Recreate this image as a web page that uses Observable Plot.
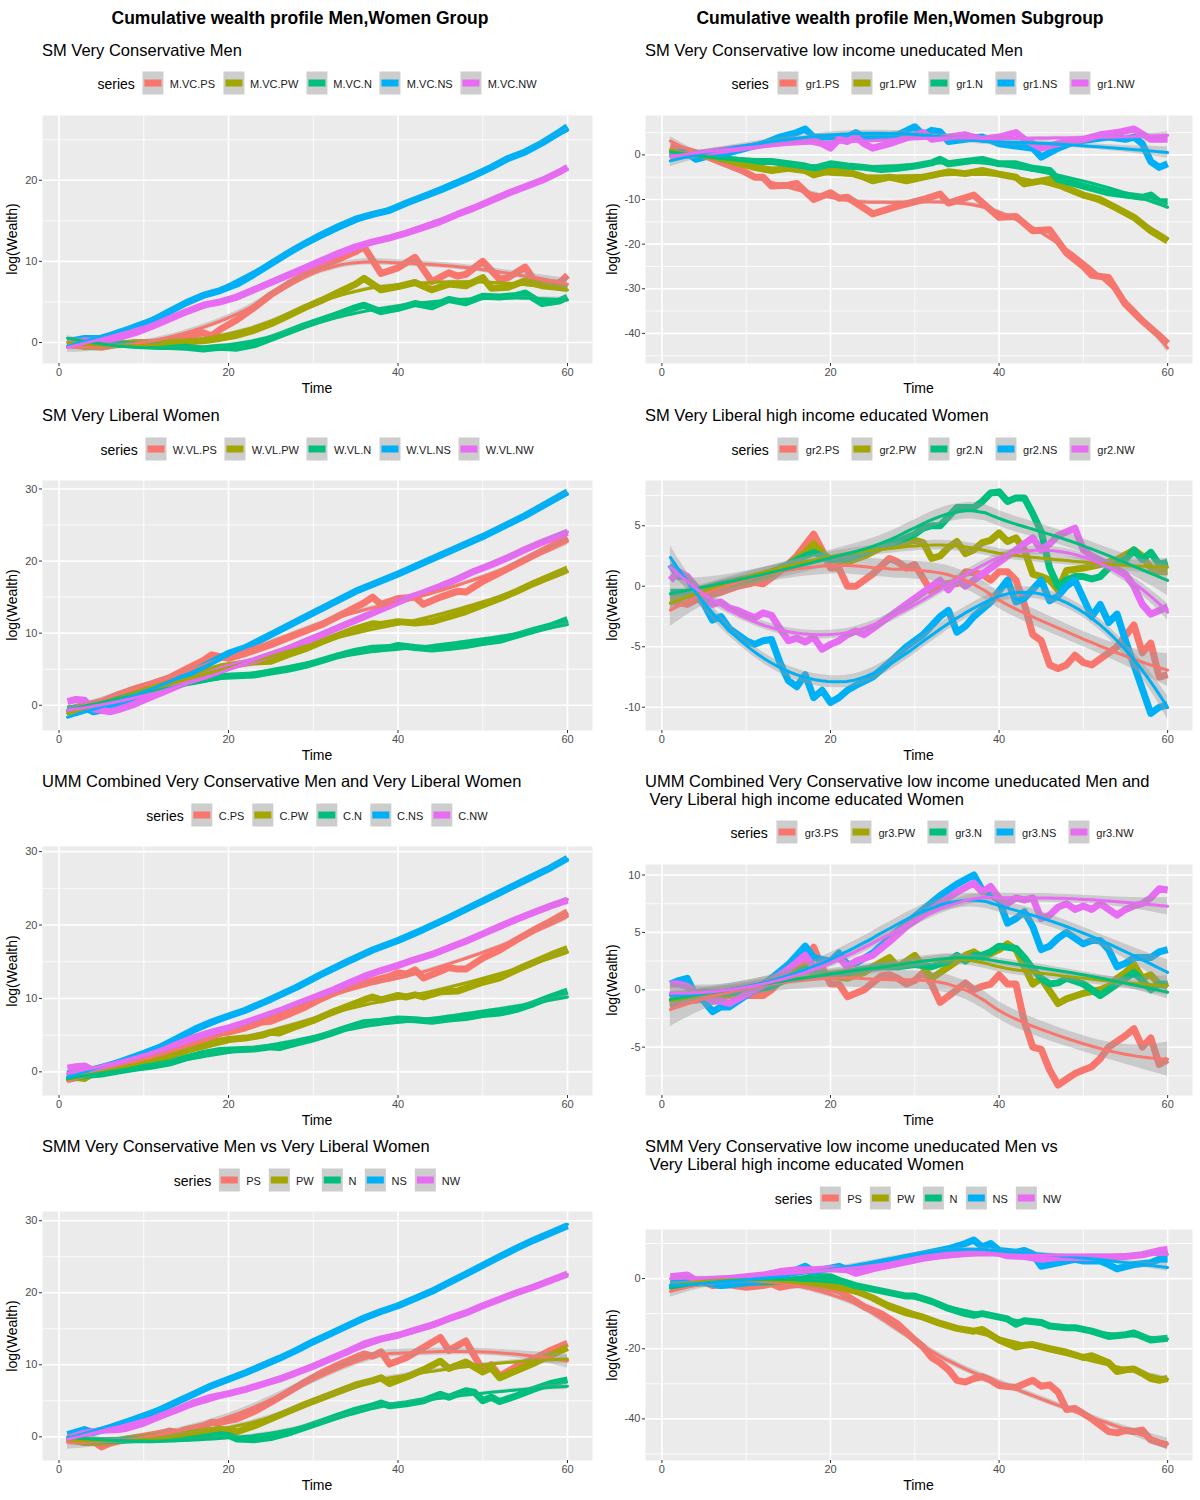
<!DOCTYPE html>
<html><head><meta charset="utf-8">
<script src="https://cdn.jsdelivr.net/npm/d3@7"></script>
<script src="https://cdn.jsdelivr.net/npm/@observablehq/plot@0.6"></script>
<style>
body{margin:0;background:#fff;font-family:"Liberation Sans",Arial,Helvetica,sans-serif;}
#root{position:relative;width:1200px;height:1500px;overflow:hidden;background:#fff;}
.abs{position:absolute;white-space:nowrap;}
.ctitle{font-weight:bold;font-size:17.5px;color:#000;transform:translate(-50%,-50%);}
.sub{font-size:16.5px;color:#000;transform:translate(0,-50%);}
.legend{display:flex;align-items:center;transform:translate(-50%,-50%);font-size:11px;color:#1a1a1a;}
.legend .lt{font-size:14px;color:#000;margin-right:8px;}
.legend .key{position:relative;width:21px;height:23px;background:#CDCDCD;}
.legend .bar{position:absolute;left:2px;right:2px;top:8px;height:7px;}
.legend .lab{margin-left:6px;margin-right:8px;}
.legend.wide .lab{margin-left:7px;margin-right:12px;}
.legend.wide .lt{margin-right:9px;}
.ytitle{font-size:14px;color:#000;transform:translate(-50%,-50%) rotate(-90deg);}
.xtitle{font-size:14px;color:#000;transform:translate(-50%,-50%);}
svg{position:absolute;overflow:visible;}
</style>
</head><body><div id="root"></div>
<script>
// ---------- colours ----------
const COLORS = ["#F8766D","#A3A500","#00BF7D","#00B0F6","#E76BF3"];

// ---------- titles ----------
const COL_TITLES = ["Cumulative wealth profile Men,Women Group","Cumulative wealth profile Men,Women Subgroup"];
const SUBTITLES = [
  ["SM Very Conservative Men"],
  ["SM Very Liberal Women"],
  ["UMM Combined Very Conservative Men and Very Liberal Women"],
  ["SMM Very Conservative Men vs Very Liberal Women"],
  ["SM Very Conservative low income uneducated Men"],
  ["SM Very Liberal high income educated Women"],
  ["UMM Combined Very Conservative low income uneducated Men and"," Very Liberal high income educated Women"],
  ["SMM Very Conservative low income uneducated Men vs"," Very Liberal high income educated Women"]
];
const NAMES_L1 = ["M.VC.PS","M.VC.PW","M.VC.N","M.VC.NS","M.VC.NW"];
const NAMES_L2 = ["W.VL.PS","W.VL.PW","W.VL.N","W.VL.NS","W.VL.NW"];
const NAMES_L3 = ["C.PS","C.PW","C.N","C.NS","C.NW"];
const NAMES_L4 = ["PS","PW","N","NS","NW"];
const NAMES_R1 = ["gr1.PS","gr1.PW","gr1.N","gr1.NS","gr1.NW"];
const NAMES_R2 = ["gr2.PS","gr2.PW","gr2.N","gr2.NS","gr2.NW"];
const NAMES_R3 = ["gr3.PS","gr3.PW","gr3.N","gr3.NS","gr3.NW"];
const NAMES_R4 = ["PS","PW","N","NS","NW"];

// ---------- tick labels ----------
const X_TICKS = [0,20,40,60];
const YT_L1 = [0,10,20];
const YT_L2 = [0,10,20,30];
const YT_L3 = [0,10,20,30];
const YT_L4 = [0,10,20,30];
const YT_R1 = [-40,-30,-20,-10,0];
const YT_R2 = [-10,-5,0,5];
const YT_R3 = [-5,0,5,10];
const YT_R4 = [-40,-20,0];

// ---------- SM Very Conservative Men ----------
const mvc_PS_t = [1,3,5,7,9,11,13,15,17,18,19,21,23,25,27,29,31,33,35,36,38,40,42,44,46,47,48,50,52,53,55,56,58,59,60];
const mvc_PS_v = [-0.3,-0.4,-0.6,-0.2,0.0,0.0,0.3,0.7,1.2,0.8,1.6,2.8,4.3,5.9,7.2,8.4,9.4,10.3,11.2,11.8,8.5,9.2,10.5,7.5,8.6,8.2,8.4,10.0,7.8,8.0,9.3,7.8,7.4,7.3,8.3];
const mvc_PW_t = [1,3,5,7,9,11,13,15,17,19,21,23,25,27,29,31,33,35,36,38,40,42,44,46,48,50,51,53,55,57,60];
const mvc_PW_v = [0.0,-0.5,-0.4,-0.2,-0.1,-0.1,0.0,0.1,0.2,0.5,0.9,1.5,2.3,3.3,4.3,5.2,6.2,7.2,7.9,6.5,6.9,7.4,6.5,7.2,7.0,8.0,6.7,6.8,7.6,7.0,6.7];
const mvc_N_t = [1,3,5,7,9,11,13,15,17,19,21,23,25,27,29,31,33,35,36,38,40,42,44,46,48,50,52,54,55,57,59,60];
const mvc_N_v = [0.2,0.0,-0.2,-0.2,-0.3,-0.4,-0.5,-0.6,-0.8,-0.6,-0.7,-0.3,0.5,1.3,2.1,2.8,3.5,4.3,4.6,3.8,4.2,4.8,4.4,5.3,4.9,5.7,5.6,5.8,6.1,4.8,5.1,5.6];
const mvc_NS_t = [1,3,5,7,9,11,13,15,17,19,21,23,25,27,29,31,33,35,37,39,41,43,45,47,49,51,53,55,57,59,60];
const mvc_NS_v = [0.1,0.5,0.5,1.0,1.7,2.7,3.8,4.9,5.8,6.4,7.2,8.4,9.7,11.0,12.2,13.3,14.3,15.2,15.8,16.3,17.2,18.0,18.8,19.7,20.6,21.6,22.7,23.5,24.6,25.9,26.6];
const mvc_NW_t = [1,3,5,7,9,11,13,15,17,19,21,23,25,27,29,31,33,35,37,39,41,43,45,47,49,51,53,55,57,59,60];
const mvc_NW_v = [-0.1,0.2,0.1,0.6,1.2,2.0,2.9,3.8,4.6,5.0,5.6,6.5,7.4,8.3,9.2,10.1,11.0,11.8,12.4,12.9,13.5,14.2,14.9,15.8,16.6,17.5,18.4,19.2,20.0,21.0,21.6];

// ---------- SM Very Liberal Women ----------
const wvl_PS_t = [1,3,5,7,9,11,13,15,17,18,20,22,25,28,31,34,36,37,38,40,42,43,45,47,48,50,53,56,58,60];
const wvl_PS_v = [-0.6,0.0,0.5,1.5,2.3,3.0,3.8,5.0,6.2,7.0,6.5,7.2,8.4,9.8,11.2,13.0,14.2,15.0,14.0,14.8,15.0,14.0,15.0,15.8,15.7,17.2,19.0,20.8,22.0,23.3];
const wvl_PW_t = [1,3,5,7,9,11,13,15,17,19,21,23,25,27,29,31,33,35,37,38,40,42,44,46,48,50,52,54,56,58,60];
const wvl_PW_v = [-0.9,-0.5,0.0,0.8,1.6,2.3,3.0,3.9,4.6,5.3,5.7,6.0,6.1,7.0,7.8,8.8,9.7,10.6,11.3,11.2,11.6,11.4,11.6,12.3,13.0,13.9,14.8,15.8,16.9,17.9,18.9];
const wvl_N_t = [1,3,5,7,9,11,13,15,17,19,21,23,25,27,29,31,33,35,37,39,40,42,44,46,48,50,52,54,56,58,60];
const wvl_N_v = [-0.5,-0.3,0.2,0.8,1.4,2.0,2.6,3.2,3.6,4.0,4.1,4.2,4.6,5.0,5.5,6.2,6.9,7.5,7.9,8.0,8.3,8.0,7.8,8.0,8.3,8.7,9.0,9.7,10.4,11.0,11.9];
const wvl_NS_t = [1,3,4,6,8,10,12,14,16,18,20,22,25,30,35,40,45,50,55,60];
const wvl_NS_v = [-0.8,-0.3,-0.9,-0.5,0.5,1.5,2.5,3.5,4.8,6.0,7.2,8.0,9.8,12.8,15.8,18.2,20.8,23.4,26.3,29.6];
const wvl_NW_t = [1,2,3,4,6,7,9,11,13,15,17,19,21,23,25,27,29,31,33,35,37,39,41,43,45,47,49,51,53,55,57,60];
const wvl_NW_v = [0.5,0.8,0.7,-0.5,-0.9,-0.6,0.2,1.2,2.2,3.2,4.0,4.9,5.6,6.2,7.0,7.8,8.8,9.8,10.8,11.8,12.8,13.8,14.8,15.6,16.5,17.5,18.6,19.5,20.5,21.6,22.6,24.0];

// ---------- UMM Combined ----------
const c_PS_t = [1,3,5,7,9,11,13,15,17,18,20,22,24,25,27,29,31,33,35,37,39,40,41,42,43,45,46,47,48,50,52,54,56,58,60];
const c_PS_v = [-1.0,-0.6,0.0,0.6,1.2,1.8,2.5,3.5,4.5,5.3,5.4,6.0,6.8,6.9,7.8,8.8,10.0,11.0,11.8,12.4,13.0,13.5,13.3,13.9,12.8,13.7,14.2,14.0,14.0,15.5,16.6,18.0,19.3,20.5,21.8];
const c_PW_t = [1,3,4,6,8,10,12,14,16,18,20,22,24,25,26,28,30,32,34,36,37,38,40,41,42,43,45,47,48,50,52,54,56,58,60];
const c_PW_v = [-0.6,-0.9,-0.2,0.1,0.6,1.2,1.7,2.5,3.3,4.0,4.4,4.6,5.0,5.4,5.3,6.2,7.0,8.0,8.9,9.8,10.2,9.8,10.4,10.2,10.5,10.2,10.9,11.0,11.4,12.2,12.8,13.9,14.9,15.9,16.8];
const c_N_t = [1,3,5,7,9,11,13,15,17,19,21,23,25,26,28,30,32,34,36,38,40,42,44,46,48,50,52,54,56,58,60];
const c_N_v = [-0.8,-0.5,-0.3,0.1,0.5,0.8,1.2,1.9,2.5,2.9,3.0,3.1,3.4,3.3,3.9,4.5,5.2,6.0,6.7,6.9,7.2,7.1,6.9,7.2,7.4,7.8,8.0,8.5,9.3,10.2,11.0];
const c_NS_t = [1,3,4,6,8,10,12,14,16,18,20,22,25,28,31,34,37,40,43,46,49,52,55,58,60];
const c_NS_v = [-0.3,0.5,0.3,0.9,1.5,2.4,3.4,4.6,5.8,6.8,7.6,8.4,9.9,11.5,13.3,15.0,16.6,17.9,19.4,21.0,22.7,24.4,26.1,27.8,29.1];
const c_NW_t = [1,2,3,4,6,8,10,12,14,16,18,20,22,24,26,28,30,32,34,36,38,40,42,44,46,48,50,52,54,56,58,60];
const c_NW_v = [0.5,0.7,0.8,0.2,0.5,1.1,2.0,2.8,3.8,4.7,5.4,6.0,6.7,7.5,8.3,9.2,10.1,11.0,12.0,13.0,13.8,14.5,15.3,16.0,16.9,17.8,18.8,19.8,20.8,21.7,22.6,23.4];

// ---------- SMM Very Conservative Men vs Very Liberal Women ----------
const smm_PS_t = [1,3,4,5,6,8,10,12,13,14,15,17,18,19,21,23,25,27,29,31,33,35,36,37,38,39,41,43,45,46,48,50,51,52,54,56,58,60];
const smm_PS_v = [-0.5,-0.7,-0.6,-1.4,-0.9,-0.3,0.1,0.5,0.8,0.6,1.0,1.5,2.0,2.0,2.5,3.5,4.8,6.2,7.6,8.9,10.0,11.0,11.5,11.2,11.8,10.1,11.0,12.4,13.8,12.0,13.3,9.2,10.0,8.4,9.8,10.8,12.0,13.0];
const smm_PW_t = [1,3,5,7,9,11,13,15,17,19,21,23,25,27,29,31,33,35,37,38,39,41,43,45,46,48,50,51,52,54,56,58,60];
const smm_PW_v = [-0.3,-0.8,-0.8,-0.5,-0.2,0.0,0.2,0.5,0.7,1.1,0.7,1.5,2.5,3.5,4.5,5.4,6.3,7.2,7.8,8.2,7.4,8.3,9.3,10.5,9.5,10.4,9.0,9.6,8.2,9.2,10.2,11.3,12.4];
const smm_N_t = [1,3,5,7,9,11,13,15,17,19,20,21,23,25,27,29,31,33,35,37,38,39,41,43,45,46,48,49,50,51,52,54,56,58,60];
const smm_N_v = [-0.3,-0.4,-0.5,-0.5,-0.4,-0.4,-0.3,-0.2,0.1,0.3,0.2,-0.3,-0.4,-0.1,0.5,1.3,2.1,2.9,3.7,4.3,4.7,4.3,4.6,5.0,5.9,5.5,6.4,6.2,5.0,5.5,4.9,5.7,6.6,7.4,7.9];
const smm_NS_t = [1,3,4,6,8,10,12,14,16,18,20,22,24,26,28,30,32,34,36,38,40,42,44,46,48,50,52,54,56,58,60];
const smm_NS_v = [0.3,1.0,0.6,1.2,2.0,2.8,3.8,4.9,6.0,7.1,8.0,8.9,9.9,10.9,12.0,13.2,14.3,15.4,16.5,17.4,18.2,19.2,20.2,21.4,22.6,23.8,25.0,26.2,27.3,28.3,29.3];
const smm_NW_t = [1,3,5,7,8,10,12,14,16,18,20,22,24,26,28,30,32,34,36,38,40,42,44,46,48,50,52,54,56,58,60];
const smm_NW_v = [-0.2,0.5,0.9,1.0,1.2,1.9,2.9,3.8,4.8,5.5,6.0,6.6,7.3,8.0,8.9,9.8,10.8,11.8,12.9,13.6,14.1,14.8,15.5,16.4,17.2,18.2,19.1,20.0,20.8,21.7,22.6];

// ---------- gr1: Very Conservative low income uneducated Men ----------
const gr1_PS_t = [1,3,5,7,9,11,12,13,15,16,18,20,21,22,25,28,31,33,34,37,40,42,44,46,48,50,51,53,55,57,59,60];
const gr1_PS_v = [2.0,1.0,0.0,-1.5,-3.0,-5.0,-5.0,-7.0,-6.8,-6.4,-10.0,-8.5,-9.7,-9.5,-13.2,-11.5,-10.0,-8.8,-10.8,-9.0,-14.0,-13.8,-17.0,-16.8,-22.0,-25.0,-27.0,-27.5,-33.5,-37.2,-40.5,-42.3];
const gr1_PW_t = [1,3,5,7,9,11,13,15,17,18,20,22,24,25,27,29,31,34,36,38,40,42,43,46,48,50,52,54,56,58,60];
const gr1_PW_v = [0.5,0.3,0.0,-0.8,-1.8,-2.8,-3.5,-3.0,-3.5,-4.5,-3.5,-3.8,-5.0,-5.8,-5.0,-5.8,-5.0,-3.8,-4.2,-3.5,-4.3,-5.0,-6.5,-5.5,-7.5,-9.0,-10.0,-12.0,-14.0,-17.0,-19.3];
const gr1_N_t = [1,3,5,7,9,11,13,15,17,18,20,22,24,26,28,30,32,33,34,36,38,40,42,44,46,47,49,51,53,55,57,58,59,60];
const gr1_N_v = [0.5,0.0,-0.2,-0.8,-1.2,-1.5,-1.5,-2.0,-2.5,-3.0,-2.0,-2.5,-2.8,-3.3,-3.0,-2.5,-1.8,-1.0,-2.0,-1.5,-1.0,-2.0,-2.0,-3.0,-3.5,-5.5,-6.5,-7.5,-8.5,-9.0,-9.5,-9.0,-10.5,-10.5];
const gr1_NS_t = [1,2,3,4,6,8,10,12,14,16,17,18,20,22,23,24,26,28,30,31,32,33,34,36,38,40,42,44,45,47,49,51,53,55,56,57,58,59,60];
const gr1_NS_v = [-0.5,0.5,0.5,-1.0,0.0,0.5,1.5,2.5,4.0,5.0,5.8,4.0,4.0,4.0,5.0,4.0,4.2,4.5,6.3,4.5,5.5,5.2,3.0,3.5,4.0,2.5,2.0,1.5,-0.5,1.5,3.0,3.5,4.0,3.5,4.0,2.5,-1.5,-2.8,-2.0];
const gr1_NW_t = [1,3,5,7,9,11,13,15,17,18,19,20,21,22,23,24,25,27,29,31,32,34,36,38,40,42,43,45,46,48,50,52,54,56,58,60];
const gr1_NW_v = [-0.5,0.0,0.5,1.0,1.5,2.0,2.5,3.0,3.5,3.0,2.5,1.5,3.5,3.0,4.0,2.5,1.5,2.5,3.8,5.0,3.5,4.0,4.5,3.5,4.0,5.0,3.5,1.5,2.0,3.0,3.5,4.5,5.0,5.8,3.5,3.5];

// ---------- gr2: Very Liberal high income educated Women ----------
const gr2_PS_t = [1,3,5,7,9,11,12,14,16,18,19,20,21,22,23,25,27,28,29,30,32,33,35,36,38,39,40,41,42,43,44,45,46,47,48,49,50,51,52,53,54,56,57,58,59,60];
const gr2_PS_v = [-1.2,-1.5,-0.8,-0.5,0.0,0.3,0.2,1.2,2.5,4.3,3.0,1.5,1.5,0.0,0.0,1.0,2.3,2.0,1.5,1.8,-0.5,0.2,0.2,1.2,1.0,0.5,1.2,1.2,0.5,-1.5,-4.0,-4.5,-6.5,-6.8,-6.5,-5.7,-6.3,-6.5,-6.0,-5.5,-5.0,-3.2,-5.5,-4.7,-7.5,-7.3];
const gr2_PW_t = [1,3,5,7,9,11,13,15,17,18,19,20,22,24,26,28,30,31,32,33,34,35,36,37,38,39,40,41,42,43,44,45,46,47,48,50,52,54,56,57,58,59,60];
const gr2_PW_v = [-1.0,-0.8,-0.5,0.0,0.3,0.6,1.0,1.8,2.8,3.5,2.8,2.2,2.0,2.5,3.2,3.5,3.8,3.6,2.3,2.5,3.2,3.7,2.7,3.0,3.6,3.8,4.4,3.7,4.0,3.0,1.0,0.8,0.5,-0.3,1.3,1.5,1.8,2.2,3.0,2.5,1.5,1.2,1.2];
const gr2_N_t = [1,3,5,7,9,11,13,15,17,18,20,22,24,26,28,30,31,32,33,35,37,38,39,40,41,42,43,44,45,46,47,48,49,50,51,52,53,55,56,57,58,59,60];
const gr2_N_v = [-0.5,-0.5,-0.2,0.2,0.5,0.8,1.2,1.8,2.5,2.8,2.2,2.3,2.8,3.3,3.7,4.3,4.8,5.0,5.0,6.5,6.5,7.0,7.7,7.8,7.0,7.3,7.3,6.0,4.5,1.5,0.0,0.5,0.8,0.8,0.6,0.8,1.5,2.2,3.0,2.2,2.8,1.8,2.0];
const gr2_NS_t = [1,2,3,4,5,6,7,8,9,10,11,12,13,14,15,16,17,18,19,20,21,22,23,25,27,29,31,33,34,35,36,37,39,41,42,43,45,46,47,48,49,50,51,52,53,54,55,56,57,58,59,60];
const gr2_NS_v = [1.8,0.8,0.8,-0.5,-1.5,-2.8,-2.5,-3.5,-4.0,-4.5,-4.8,-4.5,-4.4,-6.3,-7.8,-8.3,-7.3,-9.2,-8.6,-9.6,-9.2,-8.6,-8.2,-7.5,-6.3,-5.0,-4.0,-2.5,-2.0,-3.8,-3.3,-2.5,-1.3,0.5,-1.3,-1.0,0.5,-1.2,-0.8,0.0,0.5,-1.0,-2.5,-1.5,-3.0,-2.3,-4.5,-6.5,-8.5,-10.5,-10.0,-9.8];
const gr2_NW_t = [1,2,3,4,5,6,7,8,9,10,11,12,13,14,15,16,17,18,19,20,21,22,23,24,25,27,29,31,33,34,35,36,38,40,42,44,45,46,47,49,50,51,53,55,56,57,58,59,60];
const gr2_NW_v = [0.5,1.2,0.8,0.0,-0.8,-1.5,-1.3,-1.8,-2.0,-2.3,-2.6,-2.2,-2.4,-3.5,-4.5,-4.3,-4.6,-4.2,-5.2,-4.8,-4.5,-4.0,-3.7,-4.0,-3.5,-2.5,-1.5,-0.5,0.5,-0.3,0.6,0.0,1.0,2.0,3.0,4.0,3.0,3.5,4.2,4.8,3.0,2.5,1.8,1.0,0.0,-1.5,-2.3,-2.0,-1.7];

// ---------- gr3: UMM Combined subgroup ----------
const gr3_PS_t = [1,3,5,7,9,11,12,13,15,17,18,19,20,21,22,24,26,27,28,29,30,31,32,33,35,36,37,38,39,40,41,42,43,44,45,46,47,48,49,50,51,52,53,54,55,56,57,58,59,60];
const gr3_PS_v = [-1.5,-1.0,-0.8,-0.5,-0.5,-0.5,-0.5,0.0,1.5,2.5,3.7,2.0,0.5,0.5,-0.6,0.0,1.2,1.3,1.0,0.5,0.8,1.5,0.5,-1.1,0.0,0.6,0.0,0.3,0.5,1.3,0.5,0.5,-2.8,-5.0,-5.2,-7.0,-8.3,-7.8,-7.3,-7.0,-6.7,-6.0,-5.0,-4.5,-4.0,-3.4,-5.0,-4.2,-6.5,-6.1];
const gr3_PW_t = [1,3,5,7,9,11,13,15,17,18,20,22,24,25,27,28,29,30,31,32,34,36,37,38,40,41,42,43,44,45,47,48,50,52,53,54,55,56,57,58,59,60];
const gr3_PW_v = [-0.8,-0.5,-0.3,-0.5,-0.2,0.0,0.5,1.2,2.0,1.5,1.2,1.0,1.5,2.0,2.8,2.0,2.5,3.0,2.0,1.0,2.0,3.0,3.3,2.8,3.5,4.0,3.5,2.0,0.5,1.0,-1.2,-0.8,-0.3,0.0,0.3,1.0,1.5,2.2,1.0,1.3,0.5,0.3];
const gr3_N_t = [1,3,5,7,9,11,13,15,17,18,20,22,24,26,28,30,32,34,35,36,37,38,39,40,41,42,43,44,45,46,47,48,50,51,52,53,54,55,56,57,58,59,60];
const gr3_N_v = [-0.6,-0.5,-0.2,-0.3,-0.2,0.0,0.3,1.0,1.8,1.5,1.3,1.5,1.8,2.0,2.0,2.2,2.0,2.5,3.0,2.5,3.0,3.0,3.3,3.8,3.7,3.6,2.8,1.8,1.0,0.5,0.6,1.0,0.5,0.0,-0.5,0.0,0.5,1.0,1.5,0.8,0.0,0.5,0.5];
const gr3_NS_t = [1,2,3,4,5,6,7,8,9,11,13,15,17,18,20,21,22,23,25,27,29,31,33,35,37,38,39,40,41,42,43,44,45,46,47,48,49,50,51,52,53,54,55,56,57,58,59,60];
const gr3_NS_v = [0.5,0.8,1.0,-0.5,-1.0,-1.9,-1.5,-1.5,-1.0,0.0,1.0,2.2,3.8,2.8,2.5,3.2,2.2,2.3,3.2,4.5,5.8,7.0,8.2,9.2,10.0,8.7,8.3,7.8,5.8,6.2,6.8,5.5,3.5,3.8,4.5,5.0,4.5,4.0,4.3,4.3,3.5,2.0,2.3,2.8,2.8,2.8,3.3,3.5];
const gr3_NW_t = [1,2,3,4,5,6,7,8,9,11,13,15,17,18,20,21,22,23,25,27,29,31,33,35,37,38,39,40,41,42,43,44,45,46,47,48,49,50,51,52,53,54,55,56,57,58,59,60];
const gr3_NW_v = [0.5,0.5,0.3,-0.3,-0.5,-1.0,-1.0,-1.2,-0.8,0.0,0.8,1.8,3.0,2.0,2.5,2.8,2.0,2.5,3.0,4.2,5.5,6.5,7.5,8.5,9.3,8.5,9.0,8.0,7.5,8.0,7.8,8.0,6.2,6.5,7.2,7.5,7.0,7.3,7.0,7.5,7.0,6.5,7.0,7.3,7.5,8.0,8.8,8.7];

// ---------- gr4: SMM subgroup ----------
const gr4_PS_t = [1,3,5,6,8,10,12,13,14,15,17,19,21,22,24,26,28,30,31,32,33,34,35,36,37,38,39,40,41,42,43,44,45,46,47,48,49,51,53,54,55,56,57,58,59,60];
const gr4_PS_v = [-2.5,-1.5,-1.0,-2.0,-1.8,-2.5,-2.0,-1.5,-2.5,-2.0,-1.5,-2.5,-3.5,-5.0,-8.0,-10.0,-13.0,-17.5,-19.5,-22.5,-24.0,-26.0,-29.0,-29.5,-28.5,-28.0,-29.0,-30.5,-30.8,-31.0,-30.0,-29.0,-30.7,-30.3,-32.4,-37.3,-37.0,-40.0,-43.6,-44.0,-43.3,-43.6,-43.2,-46.0,-46.8,-47.5];
const gr4_PW_t = [1,3,5,7,9,11,13,15,17,19,21,23,25,27,29,31,33,35,37,38,40,42,43,44,46,48,50,51,53,54,55,56,57,58,59,60];
const gr4_PW_v = [-1.0,-0.8,-1.0,-1.2,-1.5,-1.0,-1.0,-0.5,-0.5,-1.0,-2.0,-3.5,-5.5,-8.0,-9.8,-11.0,-12.8,-14.2,-15.0,-14.5,-17.5,-19.5,-19.0,-18.8,-20.0,-21.0,-22.5,-22.0,-24.0,-26.5,-26.0,-25.8,-27.0,-28.5,-29.0,-28.5];
const gr4_N_t = [1,3,5,7,9,11,13,15,17,18,19,20,21,23,25,27,29,30,32,34,36,37,38,40,41,42,43,45,46,48,49,51,53,55,56,58,60];
const gr4_N_v = [-2.0,-1.5,-1.2,-1.5,-1.2,-1.0,-0.8,-0.5,0.0,0.8,0.5,0.5,-0.5,-2.0,-3.0,-4.0,-5.0,-5.0,-6.5,-8.5,-10.0,-10.5,-10.0,-11.0,-11.5,-13.0,-12.0,-12.5,-13.5,-14.0,-14.0,-15.0,-16.5,-16.0,-15.5,-17.5,-17.0];
const gr4_NS_t = [1,3,5,7,9,11,13,15,17,18,20,21,22,24,26,28,30,32,34,36,37,38,39,40,42,43,44,45,47,49,50,52,53,54,56,58,59,60];
const gr4_NS_v = [-1.5,-1.0,-1.0,-2.0,-1.5,-1.0,0.0,1.5,3.5,2.0,3.0,3.5,2.5,3.5,4.5,5.5,6.5,7.5,8.5,10.0,11.0,9.0,10.0,8.0,7.5,8.0,7.0,3.5,4.5,5.5,5.0,5.0,4.0,2.8,4.0,4.5,5.5,5.5];
const gr4_NW_t = [1,3,4,6,8,10,12,14,16,18,20,22,23,25,27,29,31,33,35,37,39,40,41,43,45,47,49,51,53,55,57,59,60];
const gr4_NW_v = [0.5,1.0,-0.5,-0.5,0.0,0.5,1.0,2.0,2.5,2.5,2.8,2.5,1.5,2.8,3.8,4.8,5.8,6.5,7.0,7.5,7.5,7.2,6.5,6.3,5.5,6.0,6.0,6.0,6.0,6.3,6.8,8.0,8.3];

// ---------- panel specs (built from the arrays above) ----------
const PANELS = [
  {names:NAMES_L1, yTicks:YT_L1, series:[[mvc_PS_t,mvc_PS_v],[mvc_PW_t,mvc_PW_v],[mvc_N_t,mvc_N_v],[mvc_NS_t,mvc_NS_v],[mvc_NW_t,mvc_NW_v]]},
  {names:NAMES_L2, yTicks:YT_L2, series:[[wvl_PS_t,wvl_PS_v],[wvl_PW_t,wvl_PW_v],[wvl_N_t,wvl_N_v],[wvl_NS_t,wvl_NS_v],[wvl_NW_t,wvl_NW_v]]},
  {names:NAMES_L3, yTicks:YT_L3, series:[[c_PS_t,c_PS_v],[c_PW_t,c_PW_v],[c_N_t,c_N_v],[c_NS_t,c_NS_v],[c_NW_t,c_NW_v]]},
  {names:NAMES_L4, yTicks:YT_L4, series:[[smm_PS_t,smm_PS_v],[smm_PW_t,smm_PW_v],[smm_N_t,smm_N_v],[smm_NS_t,smm_NS_v],[smm_NW_t,smm_NW_v]]},
  {names:NAMES_R1, yTicks:YT_R1, series:[[gr1_PS_t,gr1_PS_v],[gr1_PW_t,gr1_PW_v],[gr1_N_t,gr1_N_v],[gr1_NS_t,gr1_NS_v],[gr1_NW_t,gr1_NW_v]]},
  {names:NAMES_R2, yTicks:YT_R2, series:[[gr2_PS_t,gr2_PS_v],[gr2_PW_t,gr2_PW_v],[gr2_N_t,gr2_N_v],[gr2_NS_t,gr2_NS_v],[gr2_NW_t,gr2_NW_v]]},
  {names:NAMES_R3, yTicks:YT_R3, series:[[gr3_PS_t,gr3_PS_v],[gr3_PW_t,gr3_PW_v],[gr3_N_t,gr3_N_v],[gr3_NS_t,gr3_NS_v],[gr3_NW_t,gr3_NW_v]]},
  {names:NAMES_R4, yTicks:YT_R4, series:[[gr4_PS_t,gr4_PS_v],[gr4_PW_t,gr4_PW_v],[gr4_N_t,gr4_N_v],[gr4_NS_t,gr4_NS_v],[gr4_NW_t,gr4_NW_v]]}
];

// ---------- layout (pixels) ----------
const COLS = [
  {left:0, plotLeft:42, plotRight:592, subX:42, yTitleX:12},
  {left:600, plotLeft:645, plotRight:1192, subX:645, yTitleX:612}
];
const LAYOUT = [
  {col:0, top:115, bottom:363, subY:[50], legY:83, legX:317, wide:false},
  {col:0, top:480, bottom:730, subY:[415], legY:449, legX:317, wide:false},
  {col:0, top:846, bottom:1095, subY:[781], legY:815, legX:317, wide:false},
  {col:0, top:1211, bottom:1460, subY:[1146], legY:1180, legX:317, wide:false},
  {col:1, top:115, bottom:363, subY:[50], legY:83, legX:933, wide:true},
  {col:1, top:480, bottom:730, subY:[415], legY:449, legX:933, wide:true},
  {col:1, top:864, bottom:1095, subY:[781,799], legY:832, legX:932, wide:true},
  {col:1, top:1229, bottom:1460, subY:[1146,1164], legY:1198, legX:918, wide:false}
];

// ---------- loess (geom_smooth default: degree 2, span 0.75, 95% band) ----------
function resampleInteger(t, v) {
  const xs = d3.range(t[0], t[t.length-1] + 1);
  const ys = xs.map(x => {
    let i = d3.bisectRight(t, x) - 1;
    if (i >= t.length - 1) return v[t.length-1];
    if (i < 0) return v[0];
    const f = (x - t[i]) / (t[i+1] - t[i]);
    return v[i] + f * (v[i+1] - v[i]);
  });
  return {xs, ys};
}
function loessRow(xs, x0, q) {
  const d = xs.map(x => x - x0);
  const ad = d.map(Math.abs);
  const h = ad.slice().sort((a,b)=>a-b)[q-1] || 1;
  const w = ad.map(a => { const u = a / h; return u < 1 ? Math.pow(1 - u*u*u, 3) : 0; });
  let S = [0,0,0,0,0];
  for (let i = 0; i < xs.length; i++) { let p = w[i]; for (let k = 0; k < 5; k++) { S[k] += p; p *= d[i]; } }
  const A = S[2]*S[4] - S[3]*S[3], B = S[2]*S[3] - S[1]*S[4], C = S[1]*S[3] - S[2]*S[2];
  const det = S[0]*A + S[1]*B + S[2]*C;
  return d.map((di, i) => w[i] * (A + B*di + C*di*di) / det);
}
function loessSmooth(t, v) {
  const {xs, ys} = resampleInteger(t, v);
  const n = xs.length, q = Math.floor(n * 0.75);
  let rss = 0, tr = 0;
  xs.forEach((x, i) => { const l = loessRow(xs, x, q); const f = d3.sum(l, (li, j) => li * ys[j]); rss += (ys[i]-f)**2; tr += l[i]; });
  const sigma = Math.sqrt(rss / (n - tr));
  const out = [];
  for (let k = 0; k < 80; k++) {
    const x0 = xs[0] + (xs[n-1] - xs[0]) * k / 79;
    const l = loessRow(xs, x0, q);
    const fit = d3.sum(l, (li, j) => li * ys[j]);
    const se = sigma * Math.sqrt(d3.sum(l, li => li*li));
    out.push({t: x0, fit, lo: fit - 2.0*se, hi: fit + 2.0*se});
  }
  return out;
}

// ---------- render ----------
const root = document.getElementById("root");
function addDiv(cls, text, x, y) {
  const el = document.createElement("div");
  el.className = "abs " + cls; el.textContent = text;
  el.style.left = x + "px"; el.style.top = y + "px";
  root.appendChild(el); return el;
}
addDiv("ctitle", COL_TITLES[0], 300, 18);
addDiv("ctitle", COL_TITLES[1], 900, 18);

PANELS.forEach((spec, pi) => {
  const lay = LAYOUT[pi], col = COLS[lay.col];
  const rows = [], smooth = [];
  spec.series.forEach(([t, v], si) => {
    const key = spec.names[si];
    t.forEach((tt, j) => rows.push({key, t: tt, v: v[j]}));
    loessSmooth(t, v).forEach(d => smooth.push({key, ...d}));
  });
  const ys = rows.map(d => d.v).concat(smooth.map(d => d.lo), smooth.map(d => d.hi));
  const [ymin, ymax] = d3.extent(ys), yr = ymax - ymin;
  const yDom = [ymin - 0.05*yr, ymax + 0.05*yr];
  const xDom = [1 - 0.05*59, 60 + 0.05*59];
  const step = Math.abs(spec.yTicks[1] - spec.yTicks[0]);
  const yMinor = d3.range(d3.min(spec.yTicks) - step, d3.max(spec.yTicks) + step + 0.001, step)
    .map(k => k + step/2).filter(m => m > yDom[0] && m < yDom[1]);
  const xMinor = [10, 30, 50];
  const mt = 6, mb = 30;
  const plotH = lay.bottom - lay.top;
  const chart = Plot.plot({
    width: 600, height: plotH + mt + mb,
    marginLeft: col.plotLeft - col.left, marginRight: 600 - (col.plotRight - col.left),
    marginTop: mt, marginBottom: mb,
    style: {background: "transparent", fontFamily: "'Liberation Sans', Arial, sans-serif", fontSize: "11px", color: "#4D4D4D"},
    x: {domain: xDom},
    y: {domain: yDom},
    color: {domain: spec.names, range: COLORS},
    marks: [
      Plot.frame({fill: "#EBEBEB", stroke: "none"}),
      Plot.gridX(xMinor, {stroke: "#fff", strokeOpacity: 1, strokeWidth: 0.8}),
      Plot.gridY(yMinor, {stroke: "#fff", strokeOpacity: 1, strokeWidth: 0.8}),
      Plot.gridX(X_TICKS, {stroke: "#fff", strokeOpacity: 1, strokeWidth: 1.6}),
      Plot.gridY(spec.yTicks, {stroke: "#fff", strokeOpacity: 1, strokeWidth: 1.6}),
      Plot.line(rows, {x: "t", y: "v", z: "key", stroke: "key", strokeWidth: 7, strokeLinejoin: "round", strokeLinecap: "butt"}),
      Plot.areaY(smooth, {x: "t", y1: "lo", y2: "hi", z: "key", fill: "#999999", fillOpacity: 0.4}),
      Plot.line(smooth, {x: "t", y: "fit", z: "key", stroke: "key", strokeWidth: 3}),
      Plot.axisX(X_TICKS, {tickSize: 3, tickPadding: 2, label: null, tickFormat: d => String(d), stroke: "#333"}),
      Plot.axisY(spec.yTicks, {tickSize: 3, tickPadding: 2, label: null, tickFormat: d => String(d), stroke: "#333"})
    ]
  });
  chart.style.left = col.left + "px";
  chart.style.top = (lay.top - mt) + "px";
  root.appendChild(chart);

  // subtitle
  SUBTITLES[pi].forEach((line, li) => addDiv("sub", line, col.subX, lay.subY[li]).style.whiteSpace = "pre");
  // legend
  const lg = document.createElement("div");
  lg.className = "abs legend" + (lay.wide ? " wide" : "");
  lg.style.left = lay.legX + "px"; lg.style.top = lay.legY + "px";
  const lt = document.createElement("span"); lt.className = "lt"; lt.textContent = "series"; lg.appendChild(lt);
  spec.names.forEach((nm, i) => {
    const k = document.createElement("div"); k.className = "key";
    const b = document.createElement("div"); b.className = "bar"; b.style.background = COLORS[i]; k.appendChild(b);
    lg.appendChild(k);
    const lb = document.createElement("span"); lb.className = "lab"; lb.textContent = nm;
    if (i === spec.names.length - 1) lb.style.marginRight = "0px";
    lg.appendChild(lb);
  });
  root.appendChild(lg);
  // axis titles
  addDiv("ytitle", "log(Wealth)", col.yTitleX, (lay.top + lay.bottom) / 2);
  addDiv("xtitle", "Time", (col.plotLeft + col.plotRight) / 2, lay.bottom + 25);
});
</script>
</body></html>
